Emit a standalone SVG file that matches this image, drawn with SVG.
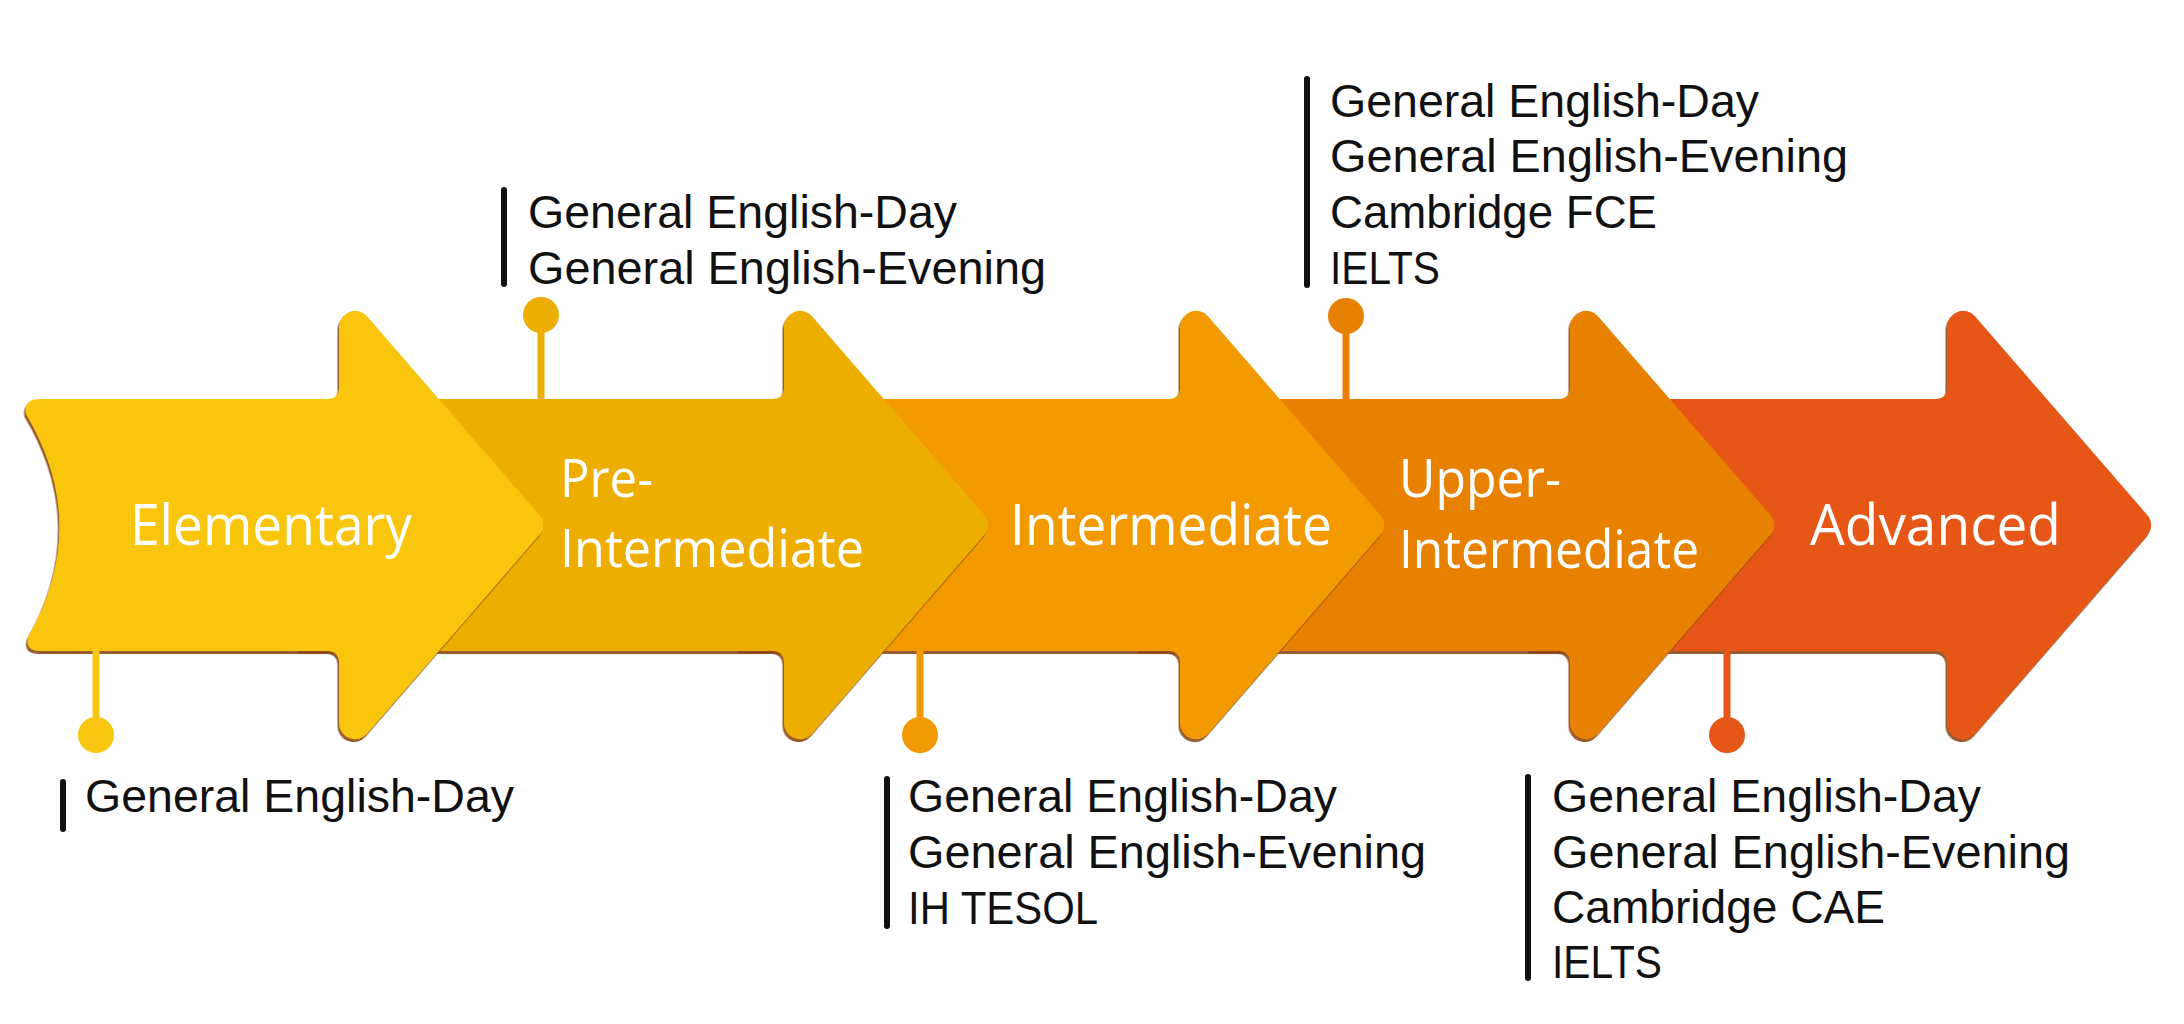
<svg xmlns="http://www.w3.org/2000/svg" width="2184" height="1024" viewBox="0 0 2184 1024">
<defs>
<filter id="sh" x="-5%" y="-5%" width="110%" height="115%">
<feDropShadow dx="-1.5" dy="3" stdDeviation="0.7" flood-color="#8e4b12" flood-opacity="0.9"/>
</filter>
<style>
.lbl{font-family:"Open Sans","Noto Sans","Liberation Sans",sans-serif;fill:#ffffff;font-size:56px}
.lbl2{font-family:"Open Sans","Noto Sans","Liberation Sans",sans-serif;fill:#ffffff;font-size:53px}
.lst{font-family:"Liberation Sans","Open Sans",sans-serif;fill:#111111;font-size:47px}
.bar{stroke:#111111;stroke-width:6;stroke-linecap:round}
.arrow{filter:url(#sh)}
</style>
</defs>
<rect width="2184" height="1024" fill="#ffffff"/>

<g id="advanced">
<path class="arrow" fill="#E65618" d="M1530,399 L1937,399 A10 10 0 0 0 1947,389 L1947,326.8 A16 16 0 0 1 1975,316.3 L2147.5,515.2 A15 15 0 0 1 2147.5,534.8 L1975,733.7 A16 16 0 0 1 1947,723.2 L1947,661 A10 10 0 0 0 1937,651 L1530,651 Z"/>
<text class="lbl" x="1810" y="545" textLength="251" lengthAdjust="spacingAndGlyphs">Advanced</text>
</g>

<g id="upper-intermediate">
<path class="arrow" fill="#E88003" d="M1140,399 L1560,399 A10 10 0 0 0 1570,389 L1570,326.8 A16 16 0 0 1 1598,316.3 L1770.5,515.2 A15 15 0 0 1 1770.5,534.8 L1598,733.7 A16 16 0 0 1 1570,723.2 L1570,661 A10 10 0 0 0 1560,651 L1140,651 Z"/>
<text class="lbl2" x="1399" y="497" textLength="162" lengthAdjust="spacingAndGlyphs">Upper-</text>
<text class="lbl2" x="1399" y="568" textLength="300" lengthAdjust="spacingAndGlyphs">Intermediate</text>
</g>

<g id="intermediate">
<path class="arrow" fill="#F29A04" d="M740,399 L1170,399 A10 10 0 0 0 1180,389 L1180,326.8 A16 16 0 0 1 1208,316.3 L1380.5,515.2 A15 15 0 0 1 1380.5,534.8 L1208,733.7 A16 16 0 0 1 1180,723.2 L1180,661 A10 10 0 0 0 1170,651 L740,651 Z"/>
<text class="lbl" x="1010" y="545" textLength="322" lengthAdjust="spacingAndGlyphs">Intermediate</text>
</g>

<g id="pre-intermediate">
<path class="arrow" fill="#EDAE03" d="M300,399 L774,399 A10 10 0 0 0 784,389 L784,326.8 A16 16 0 0 1 812,316.3 L984.5,515.2 A15 15 0 0 1 984.5,534.8 L812,733.7 A16 16 0 0 1 784,723.2 L784,661 A10 10 0 0 0 774,651 L300,651 Z"/>
<text class="lbl2" x="560" y="497" textLength="93" lengthAdjust="spacingAndGlyphs">Pre-</text>
<text class="lbl2" x="560" y="567" textLength="304" lengthAdjust="spacingAndGlyphs">Intermediate</text>
</g>

<g id="elementary">
<path class="arrow" fill="#F9C611" d="M40,399 L329,399 A10 10 0 0 0 339,389 L339,326.8 A16 16 0 0 1 367,316.3 L539.5,515.2 A15 15 0 0 1 539.5,534.8 L367,733.7 A16 16 0 0 1 339,723.2 L339,661 A10 10 0 0 0 329,651 L40,651 Q25,651 28,637 Q92,525 26,414 Q23,399 40,399 Z"/>
<text class="lbl" x="130" y="545" textLength="282" lengthAdjust="spacingAndGlyphs">Elementary</text>
</g>

<g id="connectors">
<line x1="96" y1="650" x2="96" y2="735" stroke="#F9C611" stroke-width="7"/>
<circle cx="96" cy="735" r="18" fill="#F9C611"/>
<line x1="541" y1="315" x2="541" y2="400" stroke="#EDAE03" stroke-width="7"/>
<circle cx="541" cy="315" r="18" fill="#EDAE03"/>
<line x1="920" y1="650" x2="920" y2="735" stroke="#F29A04" stroke-width="7"/>
<circle cx="920" cy="735" r="18" fill="#F29A04"/>
<line x1="1346" y1="316" x2="1346" y2="400" stroke="#E88003" stroke-width="7"/>
<circle cx="1346" cy="316" r="18" fill="#E88003"/>
<line x1="1727" y1="650" x2="1727" y2="735" stroke="#E65618" stroke-width="7"/>
<circle cx="1727" cy="735" r="18" fill="#E65618"/>
</g>

<g id="courses-elementary">
<line class="bar" x1="63" y1="782" x2="63" y2="829"/>
<text class="lst" x="85" y="812" textLength="429" lengthAdjust="spacingAndGlyphs">General English-Day</text>
</g>

<g id="courses-pre-intermediate">
<line class="bar" x1="504" y1="190" x2="504" y2="284"/>
<text class="lst" x="528" y="228" textLength="429" lengthAdjust="spacingAndGlyphs">General English-Day</text>
<text class="lst" x="528" y="284" textLength="518" lengthAdjust="spacingAndGlyphs">General English-Evening</text>
</g>

<g id="courses-intermediate">
<line class="bar" x1="887" y1="779" x2="887" y2="926"/>
<text class="lst" x="908" y="812" textLength="429" lengthAdjust="spacingAndGlyphs">General English-Day</text>
<text class="lst" x="908" y="868" textLength="518" lengthAdjust="spacingAndGlyphs">General English-Evening</text>
<text class="lst" x="908" y="924" textLength="190" lengthAdjust="spacingAndGlyphs">IH TESOL</text>
</g>

<g id="courses-upper-intermediate">
<line class="bar" x1="1307" y1="79" x2="1307" y2="285"/>
<text class="lst" x="1330" y="117" textLength="429" lengthAdjust="spacingAndGlyphs">General English-Day</text>
<text class="lst" x="1330" y="172" textLength="518" lengthAdjust="spacingAndGlyphs">General English-Evening</text>
<text class="lst" x="1330" y="228" textLength="327" lengthAdjust="spacingAndGlyphs">Cambridge FCE</text>
<text class="lst" x="1330" y="284" textLength="110" lengthAdjust="spacingAndGlyphs">IELTS</text>
</g>

<g id="courses-advanced">
<line class="bar" x1="1528" y1="777" x2="1528" y2="978"/>
<text class="lst" x="1552" y="812" textLength="429" lengthAdjust="spacingAndGlyphs">General English-Day</text>
<text class="lst" x="1552" y="868" textLength="518" lengthAdjust="spacingAndGlyphs">General English-Evening</text>
<text class="lst" x="1552" y="923" textLength="333" lengthAdjust="spacingAndGlyphs">Cambridge CAE</text>
<text class="lst" x="1552" y="978" textLength="110" lengthAdjust="spacingAndGlyphs">IELTS</text>
</g>
</svg>
